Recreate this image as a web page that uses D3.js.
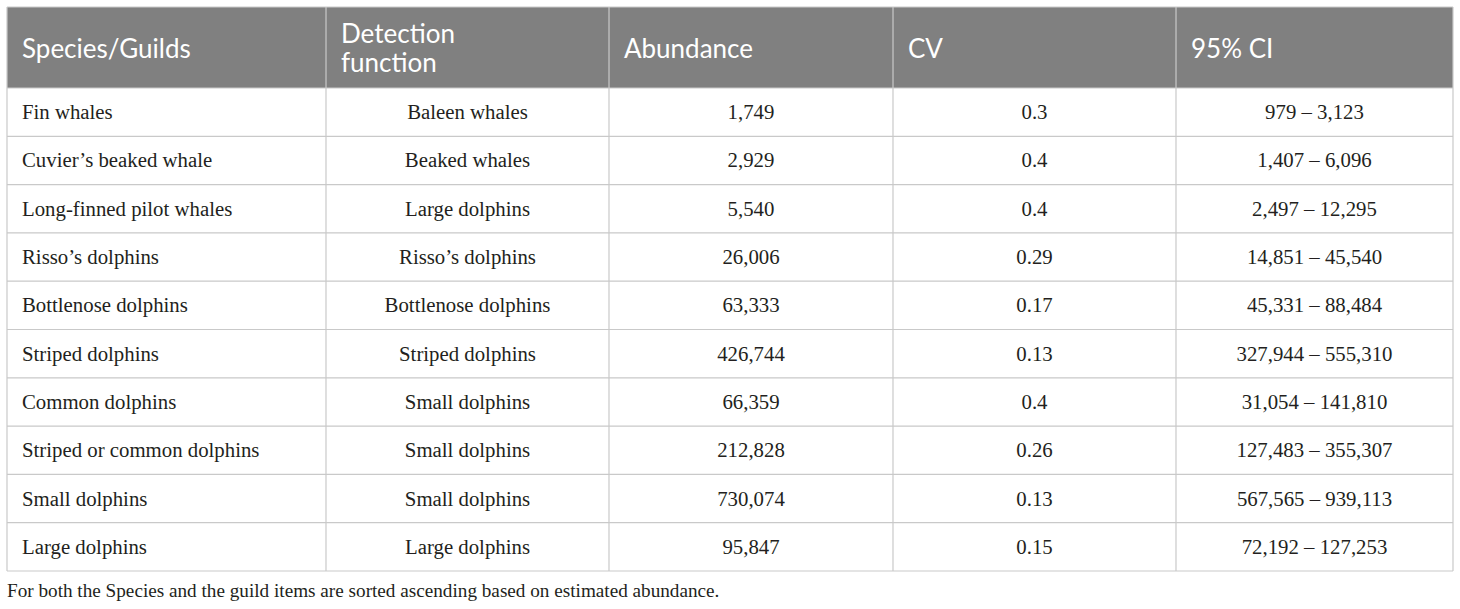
<!DOCTYPE html>
<html>
<head>
<meta charset="utf-8">
<script src="https://cdn.jsdelivr.net/npm/d3@7"></script>
<style>
  body { margin: 0; background: #fff; }
</style>
</head>
<body>
<div id="canvas"></div>
<script>
// table values
const headers = [["Species/Guilds"], ["Detection", "function"], ["Abundance"], ["CV"], ["95% CI"]];
const species = ["Fin whales", "Cuvier\u2019s beaked whale", "Long-finned pilot whales", "Risso\u2019s dolphins",
    "Bottlenose dolphins", "Striped dolphins", "Common dolphins", "Striped or common dolphins",
    "Small dolphins", "Large dolphins"];
const detection = ["Baleen whales", "Beaked whales", "Large dolphins", "Risso\u2019s dolphins",
    "Bottlenose dolphins", "Striped dolphins", "Small dolphins", "Small dolphins",
    "Small dolphins", "Large dolphins"];
const abundance = [1749, 2929, 5540, 26006, 63333, 426744, 66359, 212828, 730074, 95847];
const cv = [0.3, 0.4, 0.4, 0.29, 0.17, 0.13, 0.4, 0.26, 0.13, 0.15];
const ciLow = [979, 1407, 2497, 14851, 45331, 327944, 31054, 127483, 567565, 72192];
const ciHigh = [3123, 6096, 12295, 45540, 88484, 555310, 141810, 355307, 939113, 127253];
const footnote = "For both the Species and the guild items are sorted ascending based on estimated abundance.";

const width = 1460;
const height = 609;
const colEdges = [7, 326, 609, 893, 1176, 1453];
const tableTop = 7, headBottom = 88, tableBottom = 571;
const lineColor = "#c9c9c9";
const fmt = d3.format(",");

const svg = d3.select("#canvas").append("svg")
    .attr("width", width)
    .attr("height", height);

const y = d3.scaleBand()
    .domain(d3.range(species.length))
    .range([headBottom, tableBottom]);

// header
svg.append("rect")
    .attr("x", colEdges[0])
    .attr("y", tableTop)
    .attr("width", colEdges[5] - colEdges[0])
    .attr("height", headBottom - tableTop)
    .style("fill", "#808080");

const head = svg.append("g").selectAll("text").data(headers).enter().append("text")
    .attr("x", (d, i) => colEdges[i] + 15)
    .style("font-family", "Lato, 'Open Sans', sans-serif")
    .style("font-size", "26px")
    .style("fill", "#fff");

head.each(function (d) {
    const t = d3.select(this);
    const mid = (tableTop + headBottom) / 2;
    d.forEach((line, k) => {
        t.append("tspan")
            .attr("x", t.attr("x"))
            .attr("y", mid + 10 + (k - (d.length - 1) / 2) * 28.5)
            .text(line);
    });
});

// rows
const rows = species.map((s, i) => [s, detection[i], fmt(abundance[i]), String(cv[i]),
    fmt(ciLow[i]) + " \u2013 " + fmt(ciHigh[i])]);

const row = svg.append("g").selectAll("g").data(rows).enter().append("g")
    .attr("transform", (d, i) => `translate(0,${y(i) + y.bandwidth() / 2})`);

row.selectAll("text").data(d => d).enter().append("text")
    .attr("x", (d, j) => j === 0 ? colEdges[0] + 15 : (colEdges[j] + colEdges[j + 1]) / 2)
    .attr("y", 7)
    .attr("text-anchor", (d, j) => j === 0 ? "start" : "middle")
    .style("font-family", "'Liberation Serif', 'DejaVu Serif', serif")
    .style("font-size", "20.8px")
    .style("fill", "#231f20")
    .text(d => d);

// grid lines
const grid = svg.append("g")
    .style("stroke", lineColor)
    .style("stroke-width", 1.2);

grid.selectAll("line.h").data(d3.range(species.length + 1)).enter().append("line")
    .attr("class", "h")
    .attr("x1", colEdges[0]).attr("x2", colEdges[5])
    .attr("y1", i => i < species.length ? y(i) : tableBottom)
    .attr("y2", i => i < species.length ? y(i) : tableBottom);

grid.selectAll("line.v").data(colEdges).enter().append("line")
    .attr("class", "v")
    .attr("x1", d => d).attr("x2", d => d)
    .attr("y1", tableTop).attr("y2", tableBottom);

svg.append("line")
    .attr("x1", colEdges[0]).attr("x2", colEdges[5])
    .attr("y1", tableTop).attr("y2", tableTop)
    .style("stroke", lineColor);

svg.append("text")
    .attr("x", colEdges[0])
    .attr("y", 597)
    .style("font-family", "'Liberation Serif', 'DejaVu Serif', serif")
    .style("font-size", "19.2px")
    .style("fill", "#231f20")
    .text(footnote);
</script>
</body>
</html>
